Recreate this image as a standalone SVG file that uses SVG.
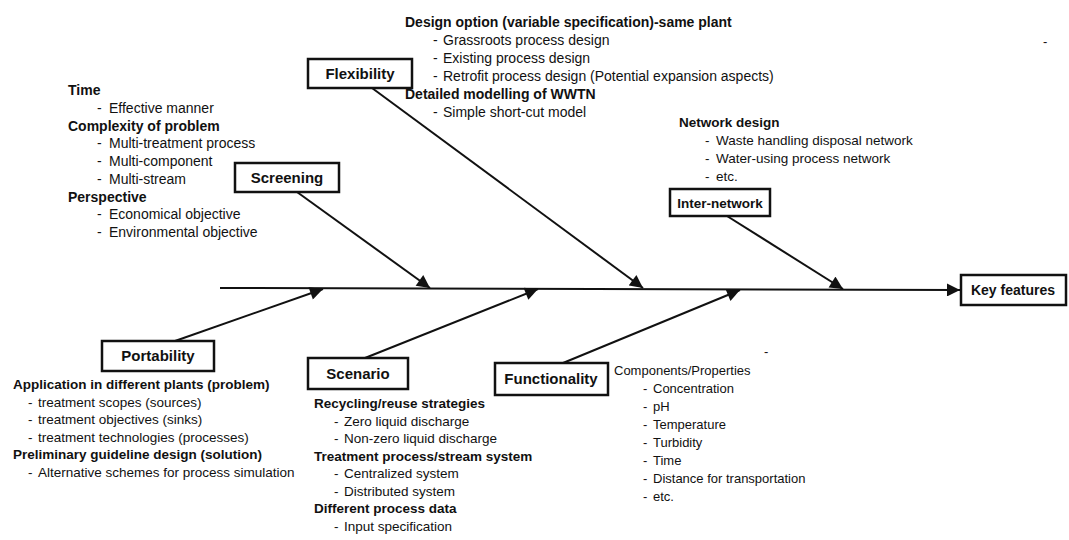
<svg xmlns="http://www.w3.org/2000/svg" width="1069" height="540" viewBox="0 0 1069 540">
<style>
text{font-family:"Liberation Sans",Arial,sans-serif;fill:#111}
.h{font-size:14px;font-weight:bold}
.i{font-size:14px}
.hs{font-size:13.5px;font-weight:bold}
.is{font-size:13.5px}
.r{font-size:13px}
.box rect{fill:#fff;stroke:#111;stroke-width:2.5}
.box text{font-size:15px;font-weight:bold;text-anchor:middle}
.con line{stroke:#111;stroke-width:2}
</style>
<defs>
<marker id="ah" viewBox="0 0 10 10" refX="10" refY="5" markerUnits="userSpaceOnUse" markerWidth="14" markerHeight="13" orient="auto">
<path d="M0,0 L10,5 L0,10 z" fill="#111"/>
</marker>
</defs>
<rect width="1069" height="540" fill="#fff"/>
<g id="connectors" class="con">
<line x1="220" y1="288" x2="960" y2="290" marker-end="url(#ah)"/>
<line x1="372" y1="88" x2="643" y2="288" marker-end="url(#ah)"/>
<line x1="297" y1="192" x2="430" y2="288" marker-end="url(#ah)"/>
<line x1="727" y1="216" x2="843" y2="289" marker-end="url(#ah)"/>
<line x1="175" y1="341" x2="323" y2="289" marker-end="url(#ah)"/>
<line x1="365" y1="358" x2="538" y2="289" marker-end="url(#ah)"/>
<line x1="563" y1="363" x2="740" y2="290" marker-end="url(#ah)"/>
</g>
<g id="flexibility" class="box"><rect x="308" y="59" width="104" height="29"/><text x="360" y="79">Flexibility</text></g>
<g id="screening" class="box"><rect x="235" y="163" width="104" height="29"/><text x="287" y="183">Screening</text></g>
<g id="inter-network" class="box"><rect x="670" y="189" width="100" height="27"/><text x="720" y="208" style="font-size:13.5px">Inter-network</text></g>
<g id="key-features" class="box"><rect x="961" y="275" width="105" height="30"/><text x="1013" y="295" style="font-size:14px">Key features</text></g>
<g id="portability" class="box"><rect x="102" y="341" width="112" height="30"/><text x="158" y="361">Portability</text></g>
<g id="scenario" class="box"><rect x="308" y="358" width="100" height="31"/><text x="358" y="379">Scenario</text></g>
<g id="functionality" class="box"><rect x="495" y="363" width="113" height="32"/><text x="551" y="384">Functionality</text></g>
<g id="screening-notes">
<text class="h" x="68" y="95">Time</text>
<text class="i" x="97" y="113">-</text><text class="i" x="109" y="113">Effective manner</text>
<text class="h" x="68" y="130.5">Complexity of problem</text>
<text class="i" x="97" y="148">-</text><text class="i" x="109" y="148">Multi-treatment process</text>
<text class="i" x="97" y="166">-</text><text class="i" x="109" y="166">Multi-component</text>
<text class="i" x="97" y="184">-</text><text class="i" x="109" y="184">Multi-stream</text>
<text class="h" x="68" y="201.5">Perspective</text>
<text class="i" x="97" y="219">-</text><text class="i" x="109" y="219">Economical objective</text>
<text class="i" x="97" y="237">-</text><text class="i" x="109" y="237">Environmental objective</text>
</g>
<g id="flexibility-notes">
<text class="h" x="405" y="27">Design option (variable specification)-same plant</text>
<text class="i" x="433" y="45">-</text><text class="i" x="443" y="45">Grassroots process design</text>
<text class="i" x="433" y="63">-</text><text class="i" x="443" y="63">Existing process design</text>
<text class="i" x="433" y="81">-</text><text class="i" x="443" y="81">Retrofit process design (Potential expansion aspects)</text>
<text class="h" x="405" y="99">Detailed modelling of WWTN</text>
<text class="i" x="433" y="117">-</text><text class="i" x="443" y="117">Simple short-cut model</text>
</g>
<g id="inter-network-notes">
<text class="hs" x="679" y="127">Network design</text>
<text class="is" x="705" y="145">-</text><text class="is" x="716" y="145">Waste handling disposal network</text>
<text class="is" x="705" y="163">-</text><text class="is" x="716" y="163">Water-using process network</text>
<text class="is" x="705" y="181">-</text><text class="is" x="716" y="181">etc.</text>
</g>
<g id="portability-notes">
<text class="hs" x="13" y="389">Application in different plants (problem)</text>
<text class="is" x="28" y="406.5">-</text><text class="is" x="38" y="406.5">treatment scopes (sources)</text>
<text class="is" x="28" y="424">-</text><text class="is" x="38" y="424">treatment objectives (sinks)</text>
<text class="is" x="28" y="441.5">-</text><text class="is" x="38" y="441.5">treatment technologies (processes)</text>
<text class="hs" x="13" y="459">Preliminary guideline design (solution)</text>
<text class="is" x="28" y="476.5">-</text><text class="is" x="38" y="476.5">Alternative schemes for process simulation</text>
</g>
<g id="scenario-notes">
<text class="hs" x="314" y="408">Recycling/reuse strategies</text>
<text class="is" x="334" y="425.5">-</text><text class="is" x="344" y="425.5">Zero liquid discharge</text>
<text class="is" x="334" y="443">-</text><text class="is" x="344" y="443">Non-zero liquid discharge</text>
<text class="hs" x="314" y="460.5">Treatment process/stream system</text>
<text class="is" x="334" y="478">-</text><text class="is" x="344" y="478">Centralized system</text>
<text class="is" x="334" y="495.5">-</text><text class="is" x="344" y="495.5">Distributed system</text>
<text class="hs" x="314" y="513">Different process data</text>
<text class="is" x="334" y="530.5">-</text><text class="is" x="344" y="530.5">Input specification</text>
</g>
<g id="functionality-notes">
<text class="r" x="614" y="375">Components/Properties</text>
<text class="r" x="643" y="393">-</text><text class="r" x="653" y="393">Concentration</text>
<text class="r" x="643" y="411">-</text><text class="r" x="653" y="411">pH</text>
<text class="r" x="643" y="429">-</text><text class="r" x="653" y="429">Temperature</text>
<text class="r" x="643" y="447">-</text><text class="r" x="653" y="447">Turbidity</text>
<text class="r" x="643" y="465">-</text><text class="r" x="653" y="465">Time</text>
<text class="r" x="643" y="483">-</text><text class="r" x="653" y="483">Distance for transportation</text>
<text class="r" x="643" y="501">-</text><text class="r" x="653" y="501">etc.</text>
</g>
<text class="r" x="1043" y="46">-</text>
<text class="r" x="764" y="356">-</text>
</svg>
